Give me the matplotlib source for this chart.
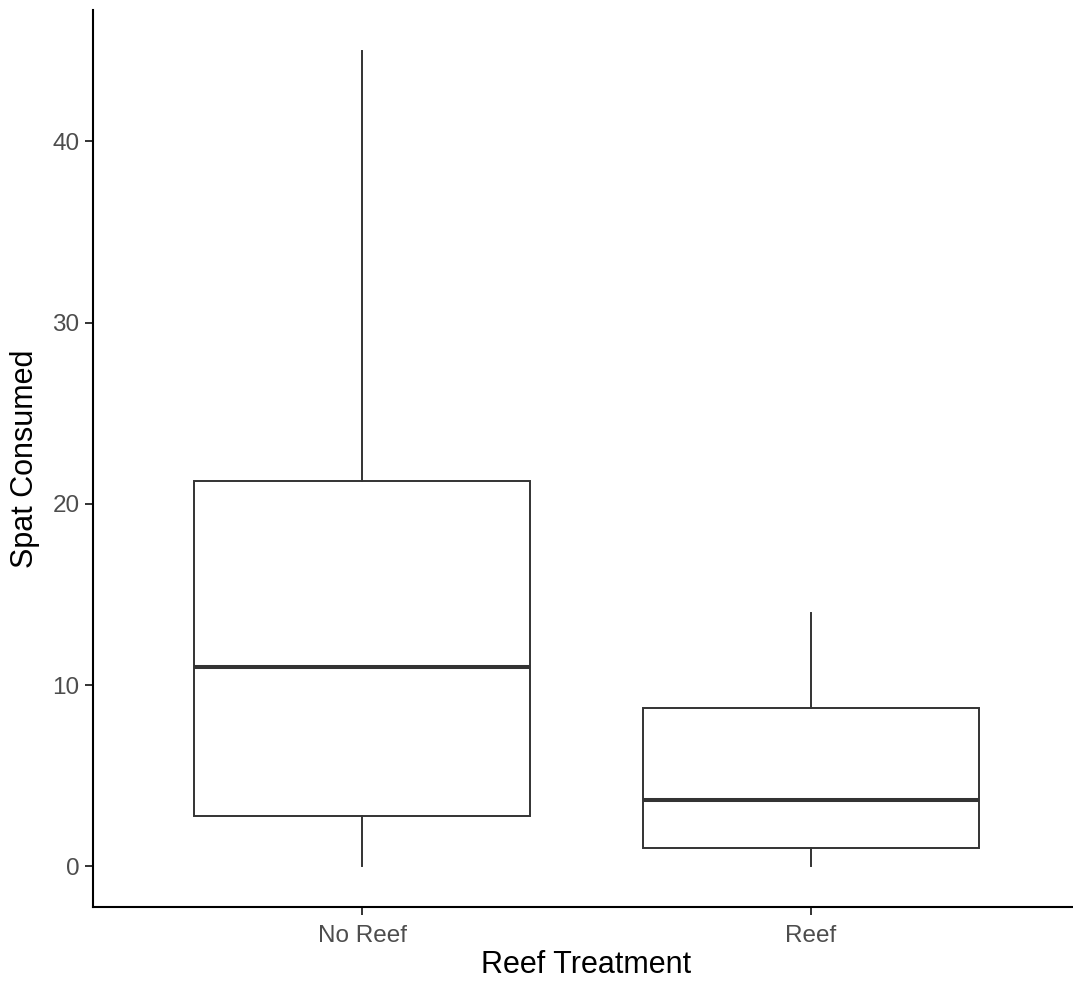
import matplotlib
matplotlib.use("Agg")
import matplotlib.pyplot as plt

plt.rcParams['font.family'] = ['Liberation Sans', 'DejaVu Sans']

# Five-number summaries per treatment
categories = ["No Reef", "Reef"]
whisker_low = [0.0, 0.0]
q1 = [2.75, 1.0]
median = [11.0, 3.65]
q3 = [21.25, 8.75]
whisker_high = [45.0, 14.0]
y_ticks = [0, 10, 20, 30, 40]

W, H = 1073, 985
fig = plt.figure(figsize=(W / 100, H / 100), dpi=100)
fig.patch.set_facecolor("white")

# panel spans x 0.4..2.6 (right part falls slightly past the figure edge)
left_px, right_px = 93, 1080
top_px, bottom_px = 10, 907
ax = fig.add_axes([left_px / W, 1 - bottom_px / H,
                   (right_px - left_px) / W, (bottom_px - top_px) / H])

stats = []
for i, name in enumerate(categories):
    stats.append(dict(label=name, whislo=whisker_low[i], q1=q1[i], med=median[i],
                      q3=q3[i], whishi=whisker_high[i], fliers=[]))

line_col = "#333333"
ax.bxp(stats, positions=[1, 2], widths=0.75, showcaps=False, showfliers=False,
       patch_artist=True,
       boxprops=dict(facecolor="white", edgecolor=line_col, linewidth=1.4),
       whiskerprops=dict(color=line_col, linewidth=1.4),
       medianprops=dict(color=line_col, linewidth=2.9, solid_capstyle="butt"))

ax.set_xlim(0.4, 2.6)
ax.set_ylim(-2.25, 47.25)
ax.set_xticks([1, 2])
ax.set_xticklabels(categories)
ax.set_yticks(y_ticks)
ax.set_yticklabels([str(v) for v in y_ticks])

for side in ("top", "right"):
    ax.spines[side].set_visible(False)
for side in ("left", "bottom"):
    ax.spines[side].set_color("black")
    ax.spines[side].set_linewidth(1.5)

ax.tick_params(axis="both", length=5.5, width=1.4, color=line_col,
               labelcolor="#4D4D4D", labelsize=17.5)
ax.tick_params(axis="x", pad=7.5)
ax.tick_params(axis="y", pad=4.3)

ax.set_xlabel("Reef Treatment", fontsize=22, color="black", labelpad=2)
ax.set_ylabel("Spat Consumed", fontsize=22, color="black", labelpad=9)

fig.savefig("out.png", dpi=100, facecolor="white")
